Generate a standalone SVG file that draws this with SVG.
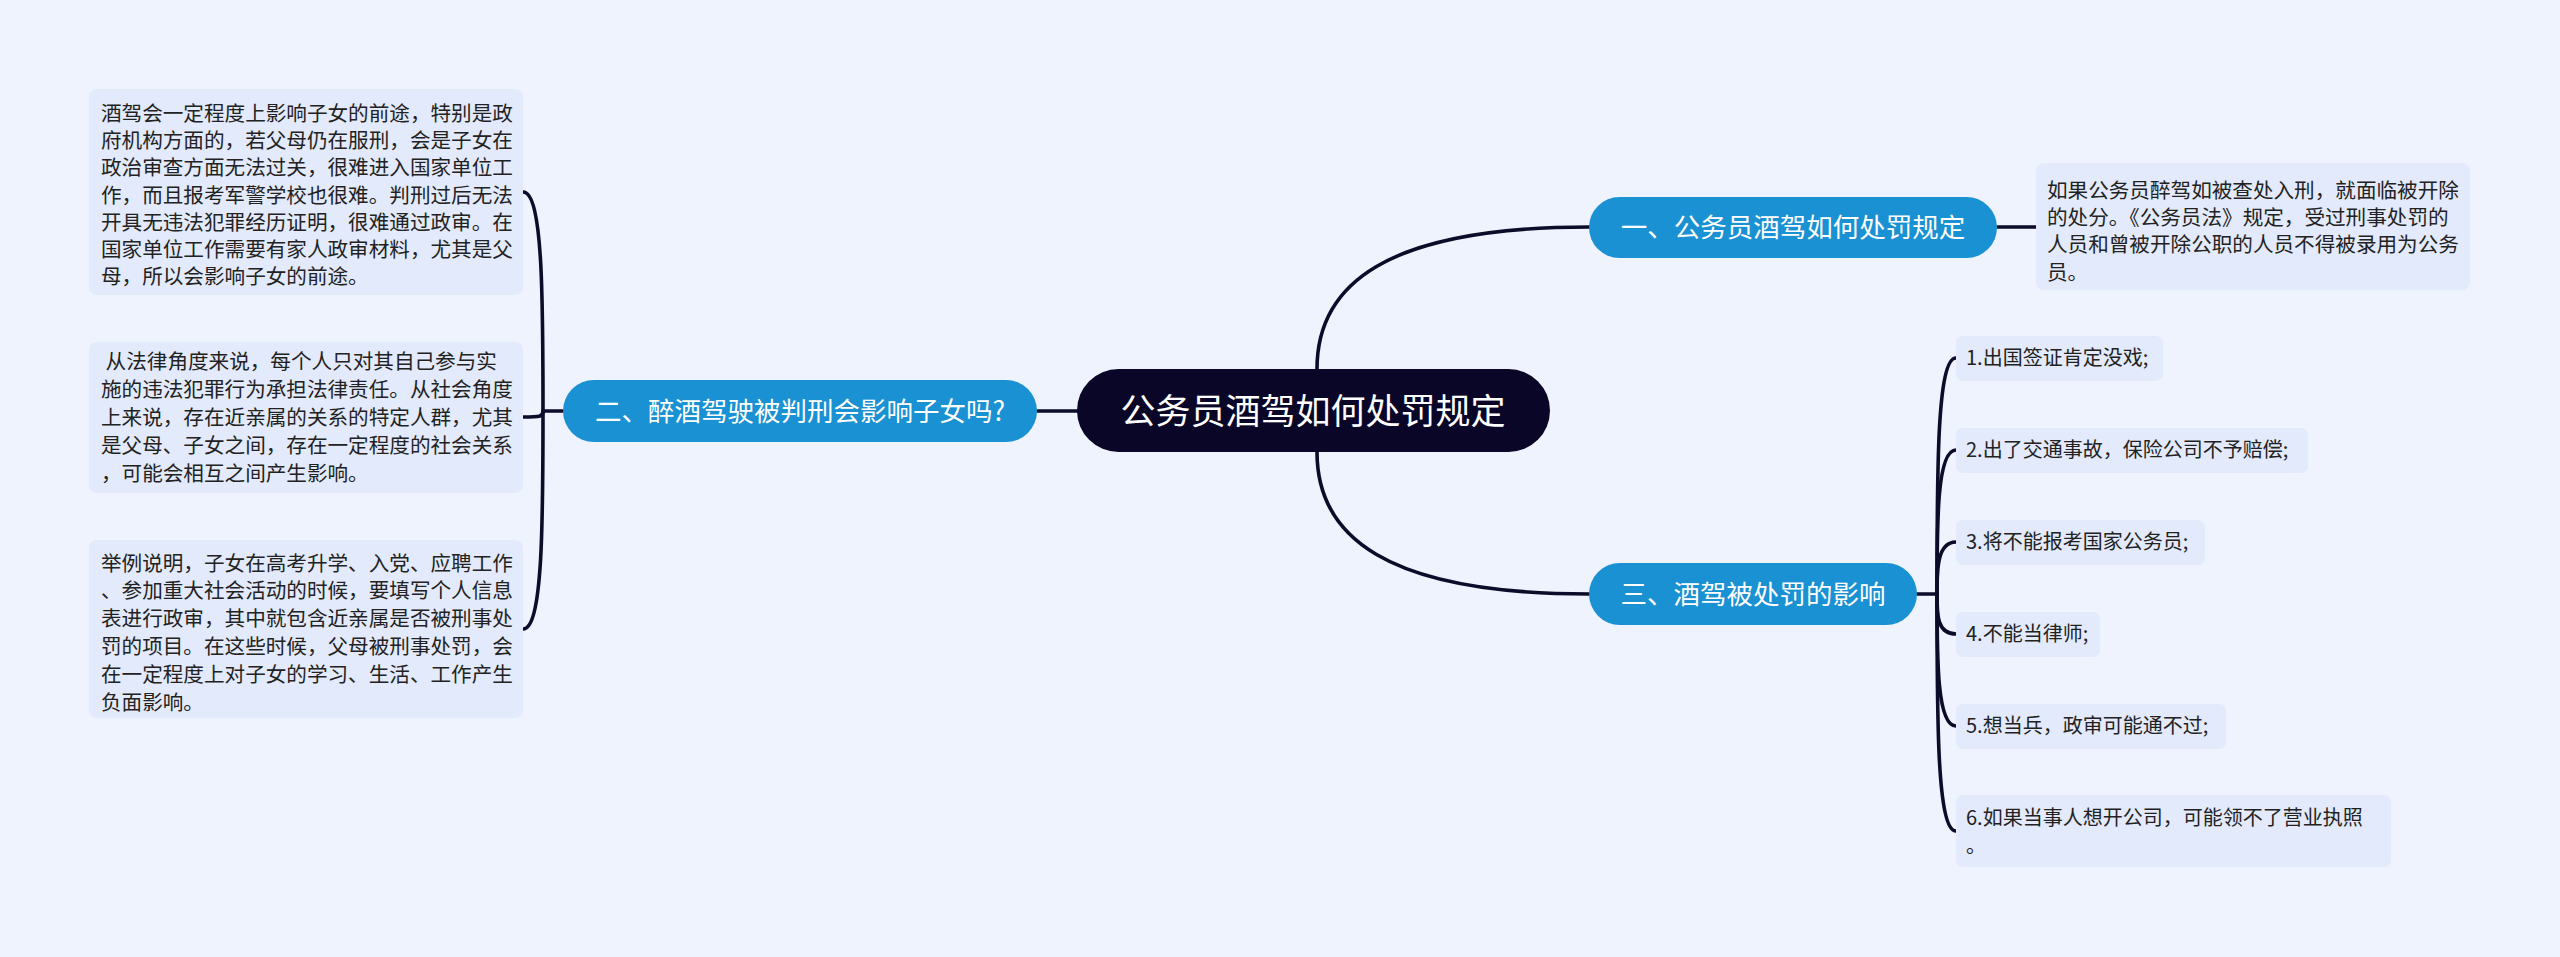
<svg xmlns="http://www.w3.org/2000/svg" width="2560" height="957" viewBox="0 0 2560 957">
<style>
.bg{fill:#eef3fd}
.box{fill:#e2eafb}
.t{font-family:"Noto Sans CJK SC","Noto Sans",sans-serif;fill:#222222}
.tb{font-size:20.6px}
.tc{font-size:20px}
.blue{fill:#1991d2}
.bt{font-family:"Noto Sans CJK SC","Noto Sans",sans-serif;font-size:26.5px;fill:#ffffff;text-anchor:middle}
.link{fill:none;stroke:#0d0b2a;stroke-width:3.6;stroke-linecap:round}
</style>
<rect class="bg" x="0" y="0" width="2560" height="957"/>
<g id="connectors">
<path class="link" d="M1317 369 C1317 285 1385 227 1589 227"/>
<path class="link" d="M1317 452 C1317 536 1385 594 1589 594"/>
<path class="link" d="M1077 411 L1037 411"/>
<path class="link" d="M1997 227 L2036 227"/>
<path class="link" d="M563 411 L543 411"/>
<path class="link" d="M543 411 C543 300 543 192 523 192"/>
<path class="link" d="M543 411 C543 417 540 417 523 417"/>
<path class="link" d="M543 411 C543 520 543 629 523 629"/>
<path class="link" d="M1917 594 L1937 594"/>
<path class="link" d="M1937 594 C1937 470 1937 358 1956 358"/>
<path class="link" d="M1937 594 C1937 520 1937 450 1956 450"/>
<path class="link" d="M1937 594 C1937 570 1937 542 1956 542"/>
<path class="link" d="M1937 594 C1937 615 1937 634 1956 634"/>
<path class="link" d="M1937 594 C1937 660 1937 726 1956 726"/>
<path class="link" d="M1937 594 C1937 720 1937 831 1956 831"/>
</g>
<g id="root">
<rect x="1077" y="369" width="473" height="83" rx="41.5" fill="#0a0628"/>
<text x="1313" y="423.5" font-family="Noto Sans CJK SC, Noto Sans, sans-serif" font-size="35" fill="#ffffff" text-anchor="middle">公务员酒驾如何处罚规定</text>
</g>
<g id="n1">
<rect class="blue" x="1589" y="197" width="408" height="61" rx="30.5"/>
<text class="bt" x="1793" y="236.5">一、公务员酒驾如何处罚规定</text>
</g>
<g id="n1-detail">
<rect class="box" x="2036" y="163" width="434" height="127" rx="8"/>
<text class="t tb" x="2047" y="197.6">
<tspan x="2047">如果公务员醉驾如被查处入刑，就面临被开除</tspan>
<tspan x="2047" dy="27.3">的处分。《公务员法》规定，受过刑事处罚的</tspan>
<tspan x="2047" dy="27.3">人员和曾被开除公职的人员不得被录用为公务</tspan>
<tspan x="2047" dy="27.3">员。</tspan>
</text>
</g>
<g id="n2">
<rect class="blue" x="563" y="380" width="474" height="62" rx="31"/>
<text class="bt" x="800" y="420.5">二、醉酒驾驶被判刑会影响子女吗?</text>
</g>
<g id="n2-a">
<rect class="box" x="89" y="89" width="434" height="206" rx="8"/>
<text class="t tb" y="120.6">
<tspan x="101">酒驾会一定程度上影响子女的前途，特别是政</tspan>
<tspan x="101" dy="27.3">府机构方面的，若父母仍在服刑，会是子女在</tspan>
<tspan x="101" dy="27.3">政治审查方面无法过关，很难进入国家单位工</tspan>
<tspan x="101" dy="27.3">作，而且报考军警学校也很难。判刑过后无法</tspan>
<tspan x="101" dy="27.3">开具无违法犯罪经历证明，很难通过政审。在</tspan>
<tspan x="101" dy="27.3">国家单位工作需要有家人政审材料，尤其是父</tspan>
<tspan x="101" dy="27.3">母，所以会影响子女的前途。</tspan>
</text>
</g>
<g id="n2-b">
<rect class="box" x="89" y="342" width="434" height="151" rx="8"/>
<text class="t tb" y="369.3" xml:space="preserve"><tspan x="101"> 从法律角度来说，每个人只对其自己参与实</tspan><tspan x="101" dy="27.9">施的违法犯罪行为承担法律责任。从社会角度</tspan><tspan x="101" dy="27.9">上来说，存在近亲属的关系的特定人群，尤其</tspan><tspan x="101" dy="27.9">是父母、子女之间，存在一定程度的社会关系</tspan><tspan x="101" dy="27.9">，可能会相互之间产生影响。</tspan></text>
</g>
<g id="n2-c">
<rect class="box" x="89" y="540" width="434" height="178" rx="8"/>
<text class="t tb" y="570.6">
<tspan x="101">举例说明，子女在高考升学、入党、应聘工作</tspan>
<tspan x="101" dy="27.8">、参加重大社会活动的时候，要填写个人信息</tspan>
<tspan x="101" dy="27.8">表进行政审，其中就包含近亲属是否被刑事处</tspan>
<tspan x="101" dy="27.8">罚的项目。在这些时候，父母被刑事处罚，会</tspan>
<tspan x="101" dy="27.8">在一定程度上对子女的学习、生活、工作产生</tspan>
<tspan x="101" dy="27.8">负面影响。</tspan>
</text>
</g>
<g id="n3">
<rect class="blue" x="1589" y="563" width="328" height="62" rx="31"/>
<text class="bt" x="1753" y="603.5">三、酒驾被处罚的影响</text>
</g>
<g id="n3-1">
<rect class="box" x="1956" y="336" width="207" height="45" rx="7"/>
<text class="t tc" x="1966" y="365.4">1.出国签证肯定没戏;</text>
</g>
<g id="n3-2">
<rect class="box" x="1956" y="428" width="352" height="45" rx="7"/>
<text class="t tc" x="1966" y="457.4">2.出了交通事故，保险公司不予赔偿;</text>
</g>
<g id="n3-3">
<rect class="box" x="1956" y="520" width="249" height="45" rx="7"/>
<text class="t tc" x="1966" y="549.4">3.将不能报考国家公务员;</text>
</g>
<g id="n3-4">
<rect class="box" x="1956" y="612" width="144" height="45" rx="7"/>
<text class="t tc" x="1966" y="641.4">4.不能当律师;</text>
</g>
<g id="n3-5">
<rect class="box" x="1956" y="704" width="270" height="45" rx="7"/>
<text class="t tc" x="1966" y="733.4">5.想当兵，政审可能通不过;</text>
</g>
<g id="n3-6">
<rect class="box" x="1956" y="795" width="435" height="72" rx="7"/>
<text class="t tc" y="825.4">
<tspan x="1966">6.如果当事人想开公司，可能领不了营业执照</tspan>
<tspan x="1966" dy="27.6">。</tspan>
</text>
</g>
</svg>
